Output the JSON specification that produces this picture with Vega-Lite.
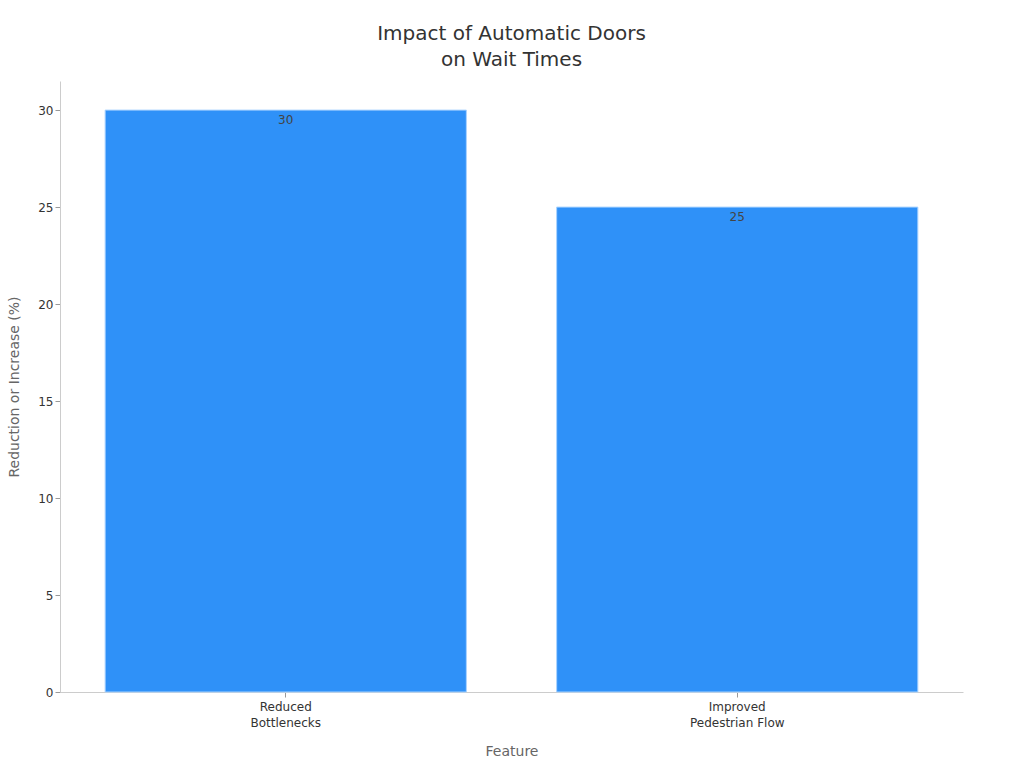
{
  "$schema": "https://vega.github.io/schema/vega-lite/v6.json",
  "autosize": {"type": "none"},
  "width": 903,
  "height": 611,
  "padding": {"left": 60, "top": 81, "right": 61, "bottom": 76},
  "title": {
    "text": ["Impact of Automatic Doors", "on Wait Times"],
    "fontSize": 20,
    "fontWeight": "normal",
    "color": "#333333",
    "font": "DejaVu Sans",
    "lineHeight": 26,
    "offset": 11,
    "anchor": "middle"
  },
  "data": {
    "values": [
      {"Feature": "Reduced Bottlenecks", "Value": 30},
      {"Feature": "Improved Pedestrian Flow", "Value": 25}
    ]
  },
  "encoding": {
    "x": {
      "field": "Feature",
      "type": "nominal",
      "sort": null,
      "scale": {"paddingInner": 0.2, "paddingOuter": 0.1},
      "axis": {
        "labelAngle": 0,
        "labelExpr": "[slice(datum.label, 0, indexof(datum.label, ' ')), slice(datum.label, indexof(datum.label, ' ') + 1)]",
        "labelLineHeight": 16,
        "labelPadding": 4,
        "titlePadding": 16
      }
    },
    "y": {
      "field": "Value",
      "type": "quantitative",
      "scale": {"domain": [0, 31.5], "nice": false},
      "axis": {
        "title": "Reduction or Increase (%)",
        "values": [0, 5, 10, 15, 20, 25, 30],
        "titlePadding": 16
      }
    }
  },
  "layer": [
    {
      "mark": {"type": "bar", "color": "#2f91f8", "stroke": "#a9d3ff", "strokeWidth": 1}
    },
    {
      "mark": {"type": "text", "baseline": "top", "dy": 5, "fontSize": 12, "color": "#444444", "font": "DejaVu Sans"},
      "encoding": {"text": {"field": "Value", "type": "quantitative"}}
    }
  ],
  "config": {
    "view": {"stroke": null},
    "font": "DejaVu Sans",
    "axis": {
      "grid": false,
      "domainColor": "#cccccc",
      "tickColor": "#999999",
      "tickSize": 5,
      "labelFont": "DejaVu Sans",
      "labelFontSize": 12,
      "labelColor": "#333333",
      "titleFont": "DejaVu Sans",
      "titleFontSize": 14,
      "titleFontWeight": "normal",
      "titleColor": "#666666"
    }
  }
}
